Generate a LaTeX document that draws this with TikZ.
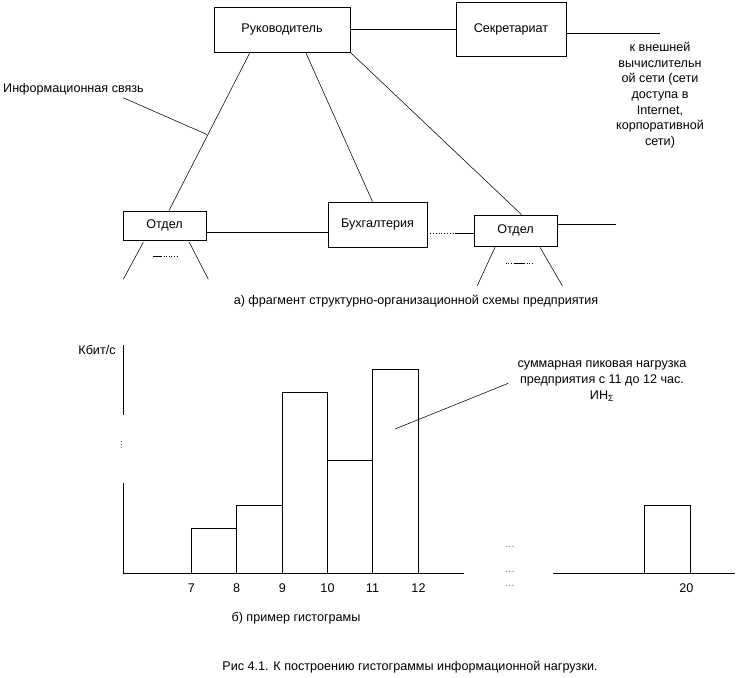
\documentclass[tikz,border=0pt]{standalone}
\usepackage{fontspec}
\setmainfont{Liberation Sans}
\begin{document}
\begin{tikzpicture}[x=1pt,y=-1pt,
  every node/.style={font=\fontsize{12.6}{15.67}\selectfont},
  box/.style={draw,line width=0.8pt,inner sep=0pt},
  link/.style={line width=0.55pt},
  hline/.style={line width=0.8pt},
  bar/.style={draw,line width=0.8pt},
  dots/.style={text=black!55,font=\fontsize{11}{11}\selectfont,inner sep=0pt,anchor=base},
  lbl/.style={inner sep=0pt}]
\useasboundingbox (0,0) rectangle (737,678);
% --- part a ---
\node[box,minimum width=136pt,minimum height=45pt] (ruk) at (282,29.5) {Руководитель};
\node[box,minimum width=110pt,minimum height=54pt] (sek) at (511,29) {Секретариат};
\node[box,minimum width=83pt,minimum height=29pt] (otd1) at (164.5,225.5) {Отдел};
\node[box,minimum width=99pt,minimum height=45pt] (buh) at (377.5,224.5) {Бухгалтерия};
\node[box,minimum width=83pt,minimum height=31pt] (otd2) at (515.5,230.5) {Отдел};

\coordinate (ext) at (660,33.5);
\coordinate (ext2) at (616,224.3);
\coordinate (mid) at (455,233.3);
\coordinate (infopt) at (207,134.5);

\draw[hline] (ruk.east) -- (sek.west |- ruk.east);
\draw[hline] (ext -| sek.east) -- (ext);
\draw[link] ([xshift=-32pt]ruk.south) -- ([xshift=4.5pt]otd1.north);
\draw[link] ([xshift=23.7pt]ruk.south) -- ([xshift=-5pt]buh.north);
\draw[link] (ruk.south east) -- ([xshift=6pt]otd2.north);
\draw[hline] ([yshift=-7.2pt]otd1.east) -- ([yshift=-8.2pt]buh.west);
\draw[hline,dotted] ([yshift=-8.8pt]buh.east) -- (mid);
\draw[hline] (mid) -- ([yshift=-2.8pt]otd2.west);
\draw[hline] ([yshift=6.2pt]otd2.east) -- (ext2);

% legs under Отдел (left)
\coordinate (l1a) at (143.3,242.3); \coordinate (l1b) at (123.3,279.3);
\coordinate (l2a) at (189.3,242.3); \coordinate (l2b) at (208.3,279.3);
\draw[link] (l1a) -- (l1b);
\draw[link] (l2a) -- (l2b);
\coordinate (d1a) at (153.3,256); \coordinate (d1b) at (161,256); \coordinate (d1c) at (178.3,256);
\draw[line width=0.8pt] (d1a) -- (d1b);
\draw[line width=0.6pt,dotted] (d1b) -- (d1c);
% legs under Отдел (right)
\coordinate (r1a) at (495,247.3); \coordinate (r1b) at (477.3,285.7);
\coordinate (r2a) at (540,247.3); \coordinate (r2b) at (562.3,285.7);
\draw[link] (r1a) -- (r1b);
\draw[link] (r2a) -- (r2b);
\coordinate (d2a) at (505.7,263.3); \coordinate (d2b) at (514,263.3);
\coordinate (d2c) at (524,263.3); \coordinate (d2d) at (534,263.3);
\draw[line width=0.6pt,dotted] (d2a) -- (d2b);
\draw[line width=1.6pt] (d2b) -- (d2c);
\draw[line width=0.6pt,dotted] (d2c) -- (d2d);

\node[lbl,anchor=west] (info) at (3,89) {Информационная связь};
\coordinate (infost) at (123,97.7);
\draw[link] (infost) -- (infopt);

\node[lbl,align=center] (exttxt) at (660,95.2) {к внешней\\вычислительн\\ой сети (сети\\доступа в\\Internet,\\корпоративной\\сети)};

\node[lbl] (capa) at (416,301) {а) фрагмент структурно-организационной схемы предприятия};

% --- part b ---
\node[lbl] (unit) at (97,350) {Кбит/с};
\coordinate (ya) at (123.3,345); \coordinate (yb) at (123.3,415);
\coordinate (yc) at (123.3,483.3); \coordinate (o) at (123.3,573);
\coordinate (xa) at (464,573); \coordinate (xb) at (553.3,573); \coordinate (xc) at (735,573);
\draw[hline] (ya) -- (yb);
\draw[hline] (yc) -- (o) -- (xa);
\draw[hline] (xb) -- (xc);
\node[dots,rotate=90,anchor=center] (ydots) at (121.5,445) {...};

\draw[bar] (191.5,528.3) rectangle (236.7,573);
\draw[bar] (236.7,505.3) rectangle (282.5,573);
\draw[bar] (282.5,392.3) rectangle (327.5,573);
\draw[bar] (327.5,460) rectangle (372.5,573);
\draw[bar] (372.5,369.3) rectangle (418.5,573);
\draw[bar] (644.3,505) rectangle (690.7,573);

\node[lbl] (t7) at (191.5,588.5) {7};
\node[lbl] (t8) at (236.7,588.5) {8};
\node[lbl] (t9) at (282.5,588.5) {9};
\node[lbl] (t10) at (327.5,588.5) {10};
\node[lbl] (t11) at (372.5,588.5) {11};
\node[lbl] (t12) at (418.5,588.5) {12};
\node[lbl] (t20) at (686.3,588.5) {20};

\node[dots] (xd1) at (510,547) {...};
\node[dots] (xd2) at (510,572.5) {...};
\node[dots] (xd3) at (510,586) {...};

\node[lbl,align=center] (peak) at (602,381) {суммарная пиковая нагрузка\\предприятия с 11 до 12 час.\\ИН\textsubscript{Σ}};
\coordinate (pk1) at (395,429);
\coordinate (pk2) at (508.3,383.3);
\draw[link] (pk1) -- (pk2);

\node[lbl] (capb) at (296,618) {б) пример гистограмы};
\node[lbl] (cap) at (410,667) {Рис 4.1. К построению гистограммы информационной нагрузки.};
\end{tikzpicture}
\end{document}
